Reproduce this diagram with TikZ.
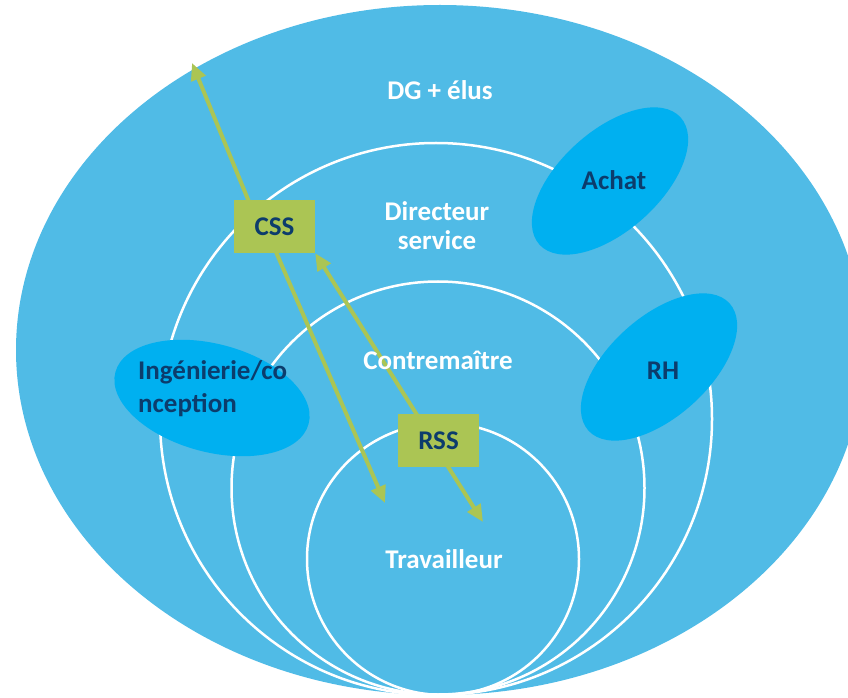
\documentclass[tikz,border=0pt]{standalone}
\usepackage{fontspec}
\setmainfont{Carlito}
\usetikzlibrary{calc,arrows.meta,shapes.geometric}
\definecolor{bigblue}{HTML}{50BBE6}
\definecolor{ovalblue}{HTML}{00B0F0}
\definecolor{boxgreen}{HTML}{ABC554}
\definecolor{navy}{HTML}{0C3C6C}
\pgfdeclarelayer{back}
\pgfdeclarelayer{mid}
\pgfsetlayers{back,mid,main}
\tikzset{
  whitelbl/.style={text=white, font=\bfseries\fontsize{27}{29}\selectfont, inner sep=0pt, align=center},
  navylbl/.style={text=navy, font=\bfseries\fontsize{27}{33}\selectfont, inner sep=0pt},
  ring/.style={draw=white, line width=2.5pt},
  oval/.style={ellipse, fill=ovalblue, inner sep=0pt},
  greenbox/.style={fill=boxgreen, minimum width=81pt, minimum height=53pt, inner sep=0pt},
  greenarrow/.style={draw=boxgreen, line width=4pt, -{Triangle[length=17pt,width=15pt]}}
}
\begin{document}
\begin{tikzpicture}[x=1pt,y=1pt]
\useasboundingbox (0,0) rectangle (848,697);
\begin{pgfonlayer}{back}
  \clip (0,0) rectangle (848,697);
  \fill[bigblue] (440,347) ellipse [x radius=424pt, y radius=345pt];
  \draw[ring] (436,278) circle [radius=276pt];
  \draw[ring] (438,209) circle [radius=206.5pt];
  \draw[ring] (443,138) circle [radius=136pt];
  \node[oval, minimum width=190pt, minimum height=100pt, rotate=42] (achatoval) at (610,516) {};
  \node[oval, minimum width=190pt, minimum height=100pt, rotate=42] (rhoval) at (659,330) {};
  \node[oval, minimum width=200pt, minimum height=108pt, rotate=-15] (ingoval) at (212,299) {};
\end{pgfonlayer}

% labels
\node[whitelbl] (dg) at (440,607) {DG + élus};
\node[whitelbl] (dir) at (437,471) {Directeur\\service};
\node[whitelbl] (contre) at (438,337) {Contremaître};
\node[whitelbl] (trav) at (444,138) {Travailleur};
\node[navylbl] (achat) at (614,517) {Achat};
\node[navylbl] (rh) at (663,326) {RH};
\node[navylbl, align=left, anchor=west] (ing) at (138,308.5) {Ingénierie/co\\nception};

% boxes
\node[greenbox] (css) at (274.5,470.5) {};
\node[navylbl] (csstext) at (css) {CSS};
\node[greenbox] (rss) at (438.5,256.5) {};
\node[navylbl] (rsstext) at (rss) {RSS};

\coordinate (tipA) at (192,634);
\coordinate (tipB) at (385,194);
\coordinate (tipC) at (483,175);

\begin{pgfonlayer}{mid}
  \draw[greenarrow] ($(css.north west)+(16,-4)$) -- (tipA);
  \draw[greenarrow] ($(css.south west)+(41,4)$) -- (tipB);
  \draw[greenarrow] ($(rss.north west)+(21,-4)$) -- (css.south east);
  \draw[greenarrow] ($(rss.south west)+(48,4)$) -- (tipC);
\end{pgfonlayer}
\end{tikzpicture}
\end{document}
